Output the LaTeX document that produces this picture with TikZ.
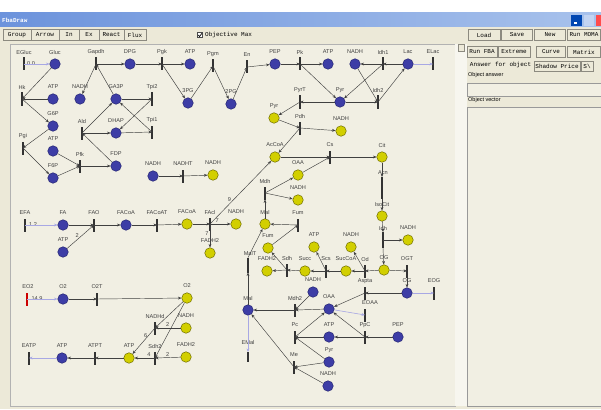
\documentclass[tikz,border=0pt]{standalone}
\usepackage{fontspec}
\setmainfont{Liberation Sans}
\newfontfamily\uifont{Liberation Mono}
\usetikzlibrary{arrows.meta}
\definecolor{canvasbg}{HTML}{F1EFE3}
\definecolor{chrome}{HTML}{ECE9D8}
\definecolor{mblue}{HTML}{3D3DA6}
\definecolor{mblueb}{HTML}{262672}
\definecolor{myel}{HTML}{D2CF00}
\definecolor{myelb}{HTML}{6E6C00}
\definecolor{lnk}{HTML}{404040}
\definecolor{exl}{HTML}{A8A8E4}
\definecolor{titlel}{HTML}{6C93DC}
\definecolor{titler}{HTML}{A8C2EC}
\definecolor{btnb}{HTML}{8C8A80}
\tikzset{
 met/.style={circle,draw=mblueb,fill=mblue,minimum size=10.5pt,inner sep=0pt,line width=0.5pt},
 mety/.style={circle,draw=myelb,fill=myel,minimum size=10.5pt,inner sep=0pt,line width=0.5pt},
 rxn/.style={rectangle,fill=black!80,minimum width=1.3pt,minimum height=13pt,inner sep=0pt,outer sep=0pt},
 rxnred/.style={rxn,fill=red!80!black},
 lbl/.style={font=\fontsize{5.6}{6}\selectfont,text=black!75,inner sep=0pt},
 num/.style={font=\fontsize{5.6}{6}\selectfont,text=black!75,inner sep=0.3pt},
 flow/.style={draw=lnk,line width=0.45pt,-{Stealth[length=3.5pt,width=2.8pt]}},
 exch/.style={draw=exl,line width=0.6pt,-{Stealth[length=3.5pt,width=2.8pt]}},
 btn/.style={draw=btnb,fill=chrome,font=\uifont\fontsize{6}{7}\selectfont,inner sep=0pt,minimum height=11pt},
 ui/.style={font=\fontsize{5.5}{6}\selectfont,inner sep=0pt,anchor=west},
}
\newcommand\Met[5]{\node[#5] (#1) at (#2,#3) {}; \node[lbl] (#1-l) at ([yshift=12pt]#1.center) {#4};}
\newcommand\Rxn[4]{\node[rxn] (#1) at (#2,#3) {}; \node[lbl] (#1-l) at ([yshift=12pt]#1.center) {#4};}
\begin{document}
\begin{tikzpicture}[x=1pt,y=-1pt]
\useasboundingbox (0,0) rectangle (601,409);
% window chrome
\fill[chrome] (0,0) rectangle (601,409);
\fill[white] (0,0) rectangle (601,13);
\shade[left color=titlel,right color=titler] (0,13) rectangle (601,27);
\node[font=\uifont\bfseries\fontsize{6}{7}\selectfont,text=white,anchor=west,inner sep=0pt] (title) at (2,20) {FbaDraw};
\fill[blue!60!cyan!70!black] (571,15) rectangle (582,26);
\fill[white] (573.5,22.5) rectangle (577,23.8);
\fill[titler!70!white] (584,15) rectangle (594,26);
\fill[red!70] (596,15) rectangle (601,26);
% toolbar
\node[btn,minimum width=28pt] (bgroup) at (17,35) {Group};
\node[btn,minimum width=28pt] (barrow) at (45,35) {Arrow};
\node[btn,minimum width=20pt] (bin) at (69,35) {In};
\node[btn,minimum width=20pt] (bex) at (89,35) {Ex};
\node[btn,minimum width=25pt] (breact) at (111.5,35) {React};
\node[btn,minimum width=22pt] (bflux) at (135,35) {Flux};
\node[draw=black!70,fill=white,minimum size=5pt,inner sep=0pt] (chk) at (200,35) {};
\draw[line width=0.7pt] (198.3,35) -- (199.6,36.5) -- (201.8,33.4);
\node[font=\uifont\fontsize{6}{7}\selectfont,anchor=west,inner sep=0pt] (objmax) at (205,35) {Objective Max};
% canvas
\fill[canvasbg] (10,44) rectangle (455,406);
\draw[black!30] (10,44) rectangle (455,406);
\fill[white!60!chrome] (455,44) rectangle (467,406);
\node[draw=btnb,fill=chrome,minimum width=6pt,minimum height=7pt,inner sep=0pt] (sbtn) at (461,48) {};
% right panel
\node[btn,minimum width=32pt] (bload) at (484,35) {Load};
\node[btn,minimum width=31pt] (bsave) at (517,35) {Save};
\node[btn,minimum width=31pt] (bnew) at (550,35) {New};
\node[btn,minimum width=33pt] (bmoma) at (584,35) {Run MOMA};
\node[btn,minimum width=30pt] (bfba) at (482,52) {Run FBA};
\node[btn,minimum width=32pt] (bext) at (514,52) {Extreme};
\node[btn,minimum width=29pt] (bcurve) at (551,52) {Curve};
\node[btn,minimum width=33pt] (bmatrix) at (584,52) {Matrix};
\node[btn,minimum width=65pt,minimum height=10pt,draw=none] (tab1) at (500.5,65) {Answer for object};
\node[btn,minimum width=46pt,minimum height=10pt] (tab2) at (557,66) {Shadow Price};
\node[btn,minimum width=12pt,minimum height=10pt] (tab3) at (587,66) {S\textbackslash};
\node[ui] (oanswer) at (468,75) {Object answer};
\fill[canvasbg] (467,83) rectangle (601,96);
\draw[black!40] (467,83) rectangle (601,96);
\node[ui] (ovector) at (468,100) {Object vector};
\fill[canvasbg] (467,107) rectangle (601,406);
\draw[black!40] (467,107) rectangle (601,406);
% ---------------- network ----------------
% glycolysis
\Met{Gluc}{55}{64}{Gluc}{met}
\Met{ATPa}{53}{99}{ATP}{met}
\Met{NADHa}{80}{99}{NADH}{met}
\Met{GAP}{116}{99}{GA3P}{met}
\Met{G6P}{53}{126}{G6P}{met}
\Met{DHAP}{116}{133}{DHAP}{met}
\Met{ATPb}{53}{151}{ATP}{met}
\Met{FDP}{116}{166}{FDP}{met}
\Met{F6P}{53}{178}{F6P}{met}
\Met{DPG}{130}{64}{DPG}{met}
\Met{ATPc}{190}{64}{ATP}{met}
\Met{PGiii}{188}{103}{3PG}{met}
\Met{PGii}{231}{104}{2PG}{met}
\Met{PEP}{275}{64}{PEP}{met}
\Met{ATPd}{328}{64}{ATP}{met}
\Met{NADHb}{355}{64}{NADH}{met}
\Met{Lac}{408}{64}{Lac}{met}
\Met{Pyr}{340}{102}{Pyr}{met}
\Rxn{EGluc}{24}{64}{EGluc}
\Rxn{Hk}{22}{99}{Hk}
\Rxn{Pgi}{23}{148}{Pgi}
\Rxn{Pfk}{80}{166}{Pfk}
\Rxn{Ald}{82}{133}{Ald}
\Rxn{Tpii}{152}{99}{Tpi2}
\Rxn{Tpi}{152}{132}{Tpi1}
\Rxn{Gapdh}{96}{64}{Gapdh}
\Rxn{Pgk}{162}{64}{Pgk}
\Rxn{Pgm}{213}{66}{Pgm}
\Rxn{En}{247}{67}{En}
\Rxn{Pk}{300}{64}{Pk}
\Rxn{Idhi}{383}{64}{Idh1}
\Rxn{ELac}{433}{64}{ELac}
\Rxn{PyrT}{300}{102}{PyrT}
\Rxn{Idhii}{378}{102}{Idh2}
\node[num,fill=canvasbg] (vgluc) at (31,64) {0.0};
\draw[exch] (EGluc.center) -- (Gluc);
\draw[flow] (Gluc) -- (Hk.center);
\draw[flow] (ATPa) -- (Hk.center);
\draw[flow] (Hk.center) -- (G6P);
\draw[flow] (G6P) -- (Pgi.center);
\draw[flow] (Pgi.center) -- (F6P);
\draw[flow] (F6P) -- (Pfk.center);
\draw[flow] (ATPb) -- (Pfk.center);
\draw[flow] (Pfk.center) -- (FDP);
\draw[flow] (FDP) -- (Ald.center);
\draw[flow] (Ald.center) -- (DHAP);
\draw[flow] (Ald.center) -- (GAP);
\draw[flow] (DHAP) -- (Tpi.center);
\draw[flow] (Tpi.center) -- (GAP);
\draw[flow] (GAP) -- (Tpii.center);
\draw[flow] (Tpii.center) -- (DHAP);
\draw[flow] (GAP) -- (Gapdh.center);
\draw[flow] (Gapdh.center) -- (NADHa);
\draw[flow] (Gapdh.center) -- (DPG);
\draw[flow] (DPG) -- (Pgk.center);
\draw[flow] (Pgk.center) -- (ATPc);
\draw[flow] (Pgk.center) -- (PGiii);
\draw[flow] (PGiii) -- (Pgm.center);
\draw[flow] (Pgm.center) -- (PGii);
\draw[flow] (PGii) -- (En.center);
\draw[flow] (En.center) -- (PEP);
\draw[flow] (PEP) -- (Pk.center);
\draw[flow] (Pk.center) -- (ATPd);
\draw[flow] (Pk.center) -- (Pyr);
\draw[flow] (Lac) -- (Idhi.center);
\draw[flow] (Idhi.center) -- (NADHb);
\draw[flow] (Idhi.center) -- (Pyr);
\draw[flow] (Pyr) -- (Idhii.center);
\draw[flow] (NADHb) -- (Idhii.center);
\draw[flow] (Idhii.center) -- (Lac);
\draw[exch] (Lac) -- (ELac.center);
\draw[flow] (Pyr) -- (PyrT.center);
% mitochondria
\Met{Pyrm}{274}{118}{Pyr}{mety}
\Met{NADHc}{341}{131}{NADH}{mety}
\Met{AcCoA}{275}{157}{AcCoA}{mety}
\Met{OAAm}{298}{175}{OAA}{mety}
\Met{NADHd}{298}{200}{NADH}{mety}
\Met{Cit}{382}{157}{Cit}{mety}
\Met{IsoCit}{382}{216}{IsoCit}{mety}
\Met{NADHe}{408}{240}{NADH}{mety}
\Met{Malm}{265}{224}{Mal}{mety}
\Met{Fum}{268}{248}{Fum}{mety}
\Met{FADHb}{267}{271}{FADH2}{mety}
\Met{ATPm}{314}{247}{ATP}{mety}
\Met{NADHf}{351}{247}{NADH}{mety}
\Met{Succ}{305}{271}{Succ}{mety}
\Met{SucCoA}{346}{271}{SucCoA}{mety}
\Met{OGm}{384}{270}{OG}{mety}
\Rxn{Pdh}{300}{128}{Pdh}
\Rxn{Cs}{330}{157}{Cs}
\Rxn{Mdh}{265}{193}{Mdh}
\node[rxn,minimum height=22pt] (Acn) at (382,188) {};
\node[lbl] (Acn-l) at (383,173) {Acn};
\node[rxn,minimum height=16pt] (Idh) at (383,240) {};
\node[lbl] (Idh-l) at (383,228) {Idh};
\Rxn{Fumr}{298}{225}{Fum}
\node[rxn,minimum height=15pt] (MalT) at (248,265) {};
\node[lbl] (MalT-l) at (250,253) {MalT};
\Rxn{Sdh}{287}{270}{Sdh}
\Rxn{Scs}{326}{271}{Scs}
\Rxn{Od}{365}{271}{Od}
\Rxn{OGT}{407}{271}{OGT}
\draw[flow] (PyrT.center) -- (Pyrm);
\draw[flow] (Pyrm) -- (Pdh.center);
\draw[flow] (Pdh.center) -- (NADHc);
\draw[flow] (Pdh.center) -- (AcCoA);
\draw[flow] (AcCoA) -- (Cs.center);
\draw[flow] (OAAm) -- (Cs.center);
\draw[flow] (Cs.center) -- (Cit);
\draw[flow] (Cit) -- (Acn.north);
\draw[flow] (Acn.south) -- (IsoCit);
\draw[flow] (IsoCit) -- (Idh.north);
\draw[flow] (Idh.center) -- (NADHe);
\draw[flow] (Idh.south) -- (OGm);
\draw[flow] (OGm) -- (Od.center);
\draw[flow] (Od.center) -- (SucCoA);
\draw[flow] (Od.center) -- (NADHf);
\draw[flow] (SucCoA) -- (Scs.center);
\draw[flow] (Scs.center) -- (Succ);
\draw[flow] (Scs.center) -- (ATPm);
\draw[flow] (Succ) -- (Sdh.center);
\draw[flow] (Sdh.center) -- (FADHb);
\draw[flow] (Sdh.center) -- (Fum);
\draw[flow] (Fum) -- (Fumr.center);
\draw[flow] (Fumr.center) -- (Malm);
\draw[flow] (Malm) -- (Mdh.south);
\draw[flow] (Mdh.center) -- (OAAm);
\draw[flow] (Mdh.center) -- (NADHd);
\draw[flow] (OGm) -- (OGT.center);
% cytosol lower right
\Met{OGc}{407}{293}{OG}{met}
\Met{OAAc}{329}{309}{OAA}{met}
\Met{NADHg}{313}{292}{NADH}{met}
\Met{ATPe}{329}{337}{ATP}{met}
\Met{PEPb}{398}{337}{PEP}{met}
\Met{Pyrb}{329}{362}{Pyr}{met}
\Met{NADHh}{328}{386}{NADH}{met}
\Met{Malc}{248}{310}{Mal}{met}
\Rxn{Aspta}{365}{293}{Aspta}
\Rxn{EOG}{434}{293}{EOG}
\node[rxn] (EOAA) at (365,315) {};
\node[lbl] (EOAA-l) at (370,303) {EOAA};
\Rxn{Mdhii}{295}{310}{Mdh2}
\Rxn{Pc}{295}{337}{Pc}
\Rxn{PpC}{365}{337}{PpC}
\Rxn{Me}{294}{367}{Me}
\node[rxn,minimum height=10pt] (EMal) at (248,357) {};
\node[lbl] (EMal-l) at (248,342) {EMal};
\draw[flow] (OGT.south) -- (OGc);
\draw[exch] (OGc) -- (EOG.center);
\draw[flow] (OGc) -- (Aspta.center);
\draw[flow] (Aspta.center) -- (OAAc);
\draw[exch] (OAAc) -- (EOAA.center);
\draw[flow] (OAAc) -- (Mdhii.center);
\draw[flow] (NADHg) -- (Mdhii.center);
\draw[flow] (Mdhii.center) -- (Malc);
\draw[flow] (Malc) -- (MalT.south);
\draw[flow] (MalT.north) -- (Malm);
\draw[exch] (Malc) -- (EMal.north);
\draw[flow] (Pyrb) -- (Pc.center);
\draw[flow] (ATPe) -- (Pc.center);
\draw[flow] (Pc.center) -- (OAAc);
\draw[flow] (PEPb) -- (PpC.center);
\draw[flow] (PpC.center) -- (ATPe);
\draw[flow] (PpC.center) -- (OAAc);
\draw[flow] (Pyrb) -- (Me.center);
\draw[flow] (NADHh) -- (Me.center);
\draw[flow] (Me.center) -- (Malc);
% NADH transport, fatty acids
\Met{NADHi}{153}{176}{NADH}{met}
\Met{NADHj}{213}{175}{NADH}{mety}
\Rxn{NADHT}{183}{176}{NADHT}
\draw[flow] (NADHi) -- (NADHT.center);
\draw[flow] (NADHT.center) -- (NADHj);
\Met{FA}{63}{225}{FA}{met}
\Met{ATPf}{63}{252}{ATP}{met}
\Met{FACoAa}{126}{225}{FACoA}{met}
\Met{FACoAb}{187}{224}{FACoA}{mety}
\Met{NADHk}{236}{224}{NADH}{mety}
\Met{FADHa}{210}{253}{FADH2}{mety}
\Rxn{EFA}{25}{225}{EFA}
\Rxn{FAO}{94}{225}{FAO}
\Rxn{FACoAT}{157}{225}{FACoAT}
\Rxn{FAcl}{210}{224}{FAcl}
\node[num,fill=canvasbg] (vfa) at (33,225) {1.2};
\draw[exch] (EFA.center) -- (FA);
\draw[flow] (FA) -- (FAO.center);
\draw[flow] (ATPf) -- node[num,pos=0.45,above left=0pt] (s2a) {2} (FAO.center);
\draw[flow] (FAO.center) -- (FACoAa);
\draw[flow] (FACoAa) -- (FACoAT.center);
\draw[flow] (FACoAT.center) -- (FACoAb);
\draw[flow] (FACoAb) -- (FAcl.center);
\draw[flow] (FAcl.center) -- node[num,pos=0.35,above=1pt] (s7a) {7} (NADHk);
\draw[flow] (FAcl.center) -- node[num,pos=0.4,left=1pt] (s7b) {7} (FADHa);
\draw[flow] (FAcl.center) -- node[num,pos=0.35,above left=0pt] (s9) {9} (AcCoA);
% oxygen, ATP
\Met{Oa}{63}{299}{O2}{met}
\Met{Om}{187}{298}{O2}{mety}
\Met{NADHl}{186}{328}{NADH}{mety}
\Met{FADHc}{186}{357}{FADH2}{mety}
\Met{ATPn}{129}{358}{ATP}{mety}
\Met{ATPg}{62}{358}{ATP}{met}
\node[rxnred] (EO) at (27,299) {};
\node[lbl] (EO-l) at (28,287) {EO2};
\Rxn{OT}{97}{299}{O2T}
\Rxn{NADHdr}{155}{328}{NADHd}
\Rxn{Sdhii}{155}{358}{Sdh2}
\Rxn{ATPT}{95}{358}{ATPT}
\Rxn{EATP}{29}{358}{EATP}
\node[num,fill=canvasbg] (vo) at (37,299) {14.9};
\draw[exch] (EO.center) -- (Oa);
\draw[flow] (Oa) -- (OT.center);
\draw[flow] (OT.center) -- (Om);
\draw[flow] (Om) -- (NADHdr.center);
\draw[flow] (Om) -- (Sdhii.center);
\draw[flow] (NADHl) -- node[num,pos=0.5,above=0.5pt] (s2b) {2} (NADHdr.center);
\draw[flow] (FADHc) -- node[num,pos=0.5,above=0.5pt] (s2c) {2} (Sdhii.center);
\draw[flow] (NADHdr.center) -- node[num,pos=0.3,left=0.5pt] (s6) {6} (ATPn);
\draw[flow] (Sdhii.center) -- node[num,pos=0.3,above=0.5pt] (s4) {4} (ATPn);
\draw[flow] (ATPn) -- (ATPT.center);
\draw[flow] (ATPT.center) -- (ATPg);
\draw[exch] (ATPg) -- (EATP.center);
\end{tikzpicture}
\end{document}
